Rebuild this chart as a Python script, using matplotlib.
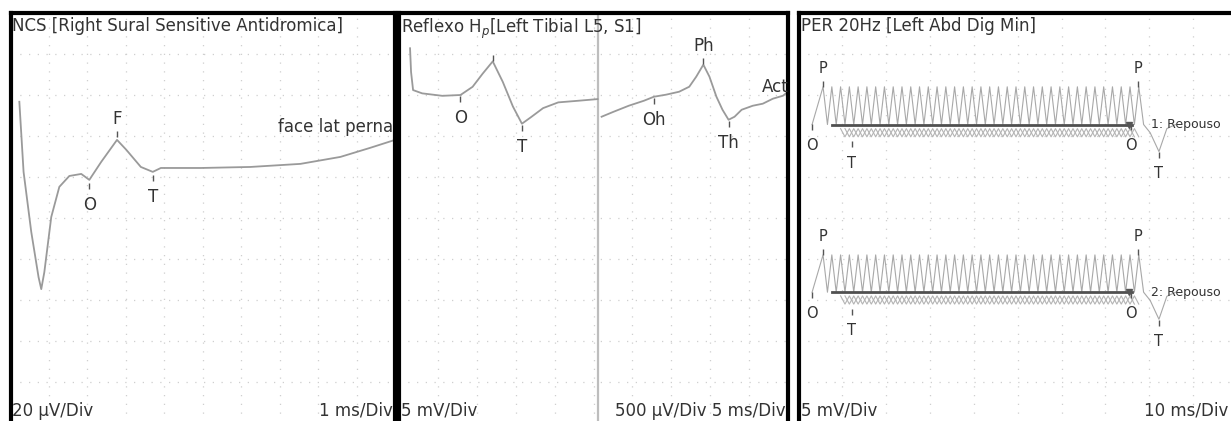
import numpy as np
import matplotlib.pyplot as plt

W, H = 1231, 421

# ---- NCS sural (ms, uV)
ncs_t = [0.23, 0.34, 0.54, 0.73, 0.80, 0.88, 1.06, 1.27, 1.53, 1.84, 2.05, 2.36, 2.77,
         3.01, 3.39, 3.70, 3.91, 4.95, 6.24, 7.54, 8.58, 9.35, 10.0]
ncs_uv = [56.7, 22.5, -6.8, -28.9, -34.7, -26.4, 0.5, 15.2, 20.5, 21.5, 18.6, 27.4, 38.1,
          33.3, 24.9, 22.5, 24.4, 24.4, 24.9, 26.4, 29.8, 34.2, 38.1]
ncs_marks = ["O", "F", "T"]
ncs_mark_t = [2.05, 2.77, 3.70]
ncs_mark_uv = [18.6, 38.1, 22.5]

# ---- H reflex, left sweep (ms, mV) and right sweep (ms, uV)
h_left_t = [1.42, 1.55, 1.81, 2.98, 5.57, 7.90, 9.46, 10.75, 12.05, 13.34, 14.64, 15.80,
            16.97, 18.52, 20.47, 23.06, 25.52]
h_left_mv = [20.7, 17.8, 15.6, 15.2, 14.9, 15.0, 16.0, 17.6, 19.1, 16.6, 13.6, 11.5,
             12.3, 13.4, 14.1, 14.3, 14.5]
h_right_t = [26.04, 27.59, 29.53, 31.48, 32.77, 34.33, 36.01, 37.31, 38.21, 39.12, 39.90,
             40.80, 41.58, 42.36, 43.13, 44.04, 45.47, 46.76, 48.06, 49.35, 50.0]
h_right_uv = [1235, 1296, 1369, 1430, 1479, 1504, 1540, 1601, 1724, 1870, 1724, 1479,
              1320, 1198, 1235, 1320, 1369, 1394, 1455, 1491, 1540]
h_marks = ["O", "", "T"]
h_mark_t = [7.90, 12.05, 15.80]
h_mark_mv = [15.0, 19.1, 11.5]
h2_marks = ["Oh", "Ph", "Th"]
h2_mark_t = [32.77, 39.12, 42.36]
h2_mark_uv = [1479, 1870, 1198]

# ---- PER 20Hz, two trains (ms, mV)
per_labels = ["1: Repouso", "2: Repouso"]
per_top = [16.0, -4.5]
per_base = [11.4, -9.05]
per_loop_hi = [10.9, -9.5]
per_loop_lo = [9.9, -10.5]
per_start = 3.1
per_first_peak = 5.6
per_period = 2.0
per_n = 36
per_tail_t = [78.7, 80.2, 82.2, 84.0, 86.0]
per_tail_dv = [0.0, -1.0, -3.3, -0.5, 0.0]
per_mark_t = [3.1, 5.6, 12.1, 75.9, 77.5, 82.2]
per_mark_names = ["O", "P", "T", "O", "P", "T"]

TXT = "#333333"
TRACE = "#9a9a9a"
MARK = "#555555"
FS = 12


def box(x0, x1, y0, y1):
    return [x0 / W, 1 - y1 / H, (x1 - x0) / W, (y1 - y0) / H]


def frame(ax, xlim, ylim, xstep, ystep):
    ax.set_xlim(*xlim)
    ax.set_ylim(*ylim)
    ax.set_xticks(np.arange(xlim[0], xlim[1] + 1e-9, xstep))
    ax.set_yticks(np.arange(ylim[0], ylim[1] + 1e-9, ystep))
    ax.tick_params(length=0, labelbottom=False, labelleft=False)
    ax.grid(True, color="#cfcfcf", lw=0.9, ls=(0, (1, 6)))
    for s in ax.spines.values():
        s.set_linewidth(3.0)
        s.set_color("black")


def mark(ax, x, y, name, up, fs=FS):
    ax.plot([x], [y], marker="|", ms=5, color=MARK, mew=1.0)
    if name:
        dy = 15 if up else -19
        ax.annotate(name, (x, y), xytext=(0, dy), textcoords="offset pixels",
                    ha="center", va="center", fontsize=fs, color=TXT)


fig = plt.figure(figsize=(W / 100, H / 100), dpi=100)

# panel 1
ax1 = fig.add_axes(box(10.5, 395, 13, 423))
frame(ax1, (0, 10), (-100, 100), 1, 20)
ax1.plot(ncs_t, ncs_uv, color=TRACE, lw=1.3)
for nm, t, v in zip(ncs_marks, ncs_mark_t, ncs_mark_uv):
    up = nm == "F"
    mark(ax1, t, v + (3 if up else -3), nm, up)
ax1.text(9.95, 44.5, "face lat perna", ha="right", va="center", fontsize=FS, color=TXT)
ax1.text(0.004, 0.99, "NCS [Right Sural Sensitive Antidromica]", transform=ax1.transAxes,
         ha="left", va="top", fontsize=FS, color=TXT)
ax1.text(0.004, 0.008, "20 µV/Div", transform=ax1.transAxes, ha="left", va="bottom",
         fontsize=FS, color=TXT)
ax1.text(0.995, 0.008, "1 ms/Div", transform=ax1.transAxes, ha="right", va="bottom",
         fontsize=FS, color=TXT)

# panel 2 (plotted in divisions: 5 mV/div left, 500 uV/div right)
ax2 = fig.add_axes(box(399, 788, 13, 423))
frame(ax2, (0, 50), (-5, 5), 5, 1)
ax2.axvline(25.6, color="#bdbdbd", lw=1.6)
ax2.plot(h_left_t, np.array(h_left_mv) / 5, color=TRACE, lw=1.3)
ax2.plot(h_right_t, np.array(h_right_uv) / 500, color=TRACE, lw=1.3)
for nm, t, v in zip(h_marks, h_mark_t, h_mark_mv):
    up = nm == ""
    mark(ax2, t, v / 5 + (0.08 if up else -0.1), nm, up)
for nm, t, v in zip(h2_marks, h2_mark_t, h2_mark_uv):
    up = nm == "Ph"
    mark(ax2, t, v / 500 + (0.08 if up else -0.1), nm, up)
ax2.text(48.3, 3.2, "Act", ha="center", va="center", fontsize=FS, color=TXT)
ax2.text(0.006, 0.99, r"Reflexo H$_p$[Left Tibial L5, S1]", transform=ax2.transAxes,
         ha="left", va="top", fontsize=FS, color=TXT)
ax2.text(0.006, 0.008, "5 mV/Div", transform=ax2.transAxes, ha="left", va="bottom",
         fontsize=FS, color=TXT)
ax2.text(0.995, 0.008, "500 µV/Div 5 ms/Div", transform=ax2.transAxes, ha="right",
         va="bottom", fontsize=FS, color=TXT)

# panel 3
ax3 = fig.add_axes(box(798.5, 1237, 13, 423))
frame(ax3, (0, 100), (-25, 25), 10, 5)
peaks = per_first_peak + per_period * np.arange(per_n + 1)
for i in range(2):
    top, base = per_top[i], per_base[i]
    # repetitive response train
    xs = [per_start]
    ys = [base]
    for p in peaks[:-1]:
        xs += [p, p + per_period / 2]
        ys += [top, base]
    xs.append(peaks[-1])
    ys.append(top)
    xs += per_tail_t
    ys += [base + d for d in per_tail_dv]
    ax3.plot(xs, ys, color="#a8a8a8", lw=0.8)
    # overlapping lower loops
    lx = peaks[2:-1]
    for off in (0, per_period / 2):
        zx, zy = [], []
        for p in lx:
            zx += [p + off, p + off + per_period / 2]
            zy += [per_loop_hi[i], per_loop_lo[i]]
        ax3.plot(zx, zy, color="#b4b4b4", lw=0.8)
    ax3.plot([peaks[1], peaks[-2] + 0.5], [base, base], color="#505050", lw=2.0)
    ax3.plot([75.3], [base], marker="v", ms=4, color=MARK)
    for nm, t in zip(per_mark_names, per_mark_t):
        if nm == "P":
            mark(ax3, t, top + 0.4, nm, True, FS - 1.5)
        elif nm == "O":
            mark(ax3, t, base - 0.3, nm, False, FS - 1.5)
        else:
            v = base - 2.0 if t < 40 else base + per_tail_dv[2]
            mark(ax3, t, v - 0.4, nm, False, FS - 1.5)
    ax3.text(80.4, base, per_labels[i], ha="left", va="center", fontsize=9, color=TXT)
ax3.text(0.006, 0.99, "PER 20Hz [Left Abd Dig Min]", transform=ax3.transAxes,
         ha="left", va="top", fontsize=FS, color=TXT)
ax3.text(0.006, 0.008, "5 mV/Div", transform=ax3.transAxes, ha="left", va="bottom",
         fontsize=FS, color=TXT)
ax3.text(0.98, 0.008, "10 ms/Div", transform=ax3.transAxes, ha="right", va="bottom",
         fontsize=FS, color=TXT)

fig.savefig("out.png", dpi=100)
